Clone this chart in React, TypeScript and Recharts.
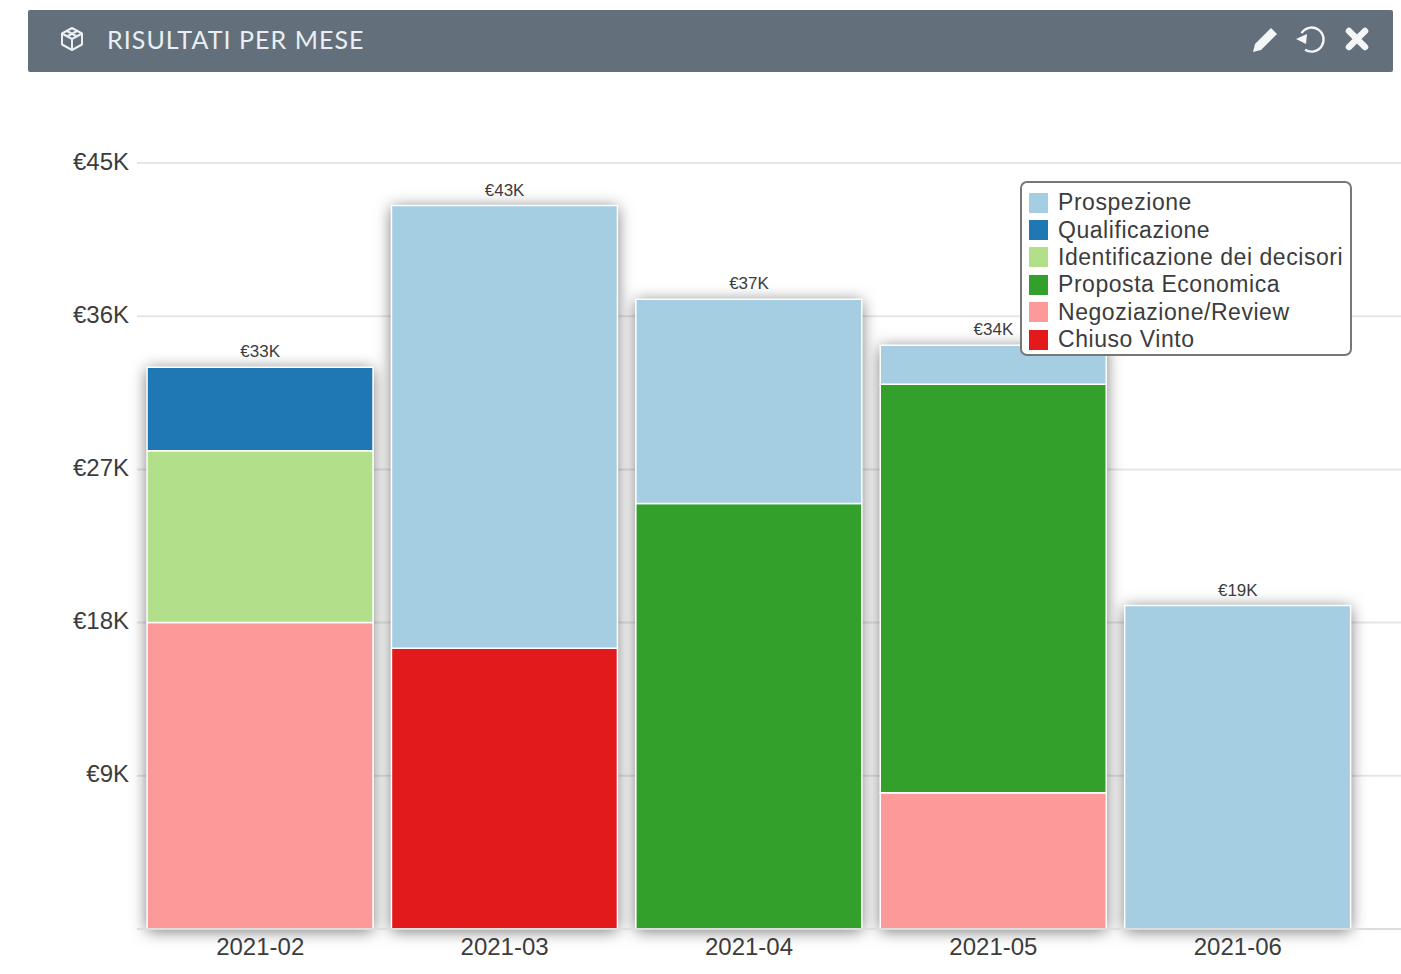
import { ComposedChart, Bar, Line, XAxis, YAxis, CartesianGrid, Legend, LabelList } from 'recharts'

const MONTHS = ['2021-02', '2021-03', '2021-04', '2021-05', '2021-06']
const Y_TICKS = [0, 9, 18, 27, 36, 45]

// values in thousands of euro
const PROSPEZIONE = [0, 26, 12, 2.3, 19]
const QUALIFICAZIONE = [4.9, 0, 0, 0, 0]
const IDENTIFICAZIONE = [10.1, 0, 0, 0, 0]
const PROPOSTA = [0, 0, 25, 24, 0]
const NEGOZIAZIONE = [18, 0, 0, 8, 0]
const CHIUSO = [0, 16.5, 0, 0, 0]
const TOTALS = [33, 42.5, 37, 34.3, 19]

const SERIES = [
  { key: 'negoziazione', name: 'Negoziazione/Review', color: '#fb9a99' },
  { key: 'chiuso', name: 'Chiuso Vinto', color: '#e31a1c' },
  { key: 'proposta', name: 'Proposta Economica', color: '#33a02c' },
  { key: 'identificazione', name: 'Identificazione dei decisori', color: '#b2df8a' },
  { key: 'qualificazione', name: 'Qualificazione', color: '#1f78b4' },
  { key: 'prospezione', name: 'Prospezione', color: '#a6cee3' },
]

const LEGEND_ORDER = ['prospezione', 'qualificazione', 'identificazione', 'proposta', 'negoziazione', 'chiuso']

const data = MONTHS.map((month, i) => ({
  month,
  prospezione: PROSPEZIONE[i],
  qualificazione: QUALIFICAZIONE[i],
  identificazione: IDENTIFICAZIONE[i],
  proposta: PROPOSTA[i],
  negoziazione: NEGOZIAZIONE[i],
  chiuso: CHIUSO[i],
  total: TOTALS[i],
}))

const FONT = '"Liberation Sans", Arial, sans-serif'

function LegendBox() {
  return (
    <div
      style={{
        width: 332,
        height: 175,
        boxSizing: 'border-box',
        background: '#fff',
        border: '2px solid #777',
        borderRadius: 7,
        padding: '6px 0 0 7px',
        fontFamily: FONT,
        fontSize: 23,
        letterSpacing: 0.55,
        color: '#3c3c3c',
      }}
    >
      {LEGEND_ORDER.map((key) => {
        const s = SERIES.find((item) => item.key === key)!
        return (
          <div key={key} style={{ display: 'flex', alignItems: 'center', height: 27.4, whiteSpace: 'nowrap' }}>
            <span style={{ width: 19, height: 20, background: s.color, marginRight: 10 }} />
            {s.name}
          </div>
        )
      })}
    </div>
  )
}

function Header() {
  return (
    <div
      style={{
        position: 'absolute',
        left: 28,
        top: 10,
        width: 1365,
        height: 62,
        background: '#646f7c',
        color: '#e9eff3',
        borderRadius: 2,
        zIndex: 2,
      }}
    >
      <svg width={1365} height={62} style={{ position: 'absolute', left: 0, top: 0 }}>
        {/* cube */}
        <g fill="none" stroke="#e9eff3" strokeWidth={2} strokeLinejoin="round">
          <path d="M44 18 L54 23.5 L54 34.5 L44 40 L34 34.5 L34 23.5 Z" />
          <path d="M34 23.5 L44 29 L54 23.5 M44 29 L44 40 M39 21 L49 26.5 M49 21 L39 26.5" />
        </g>
        {/* pencil */}
        <path d="M1225 42 L1227 34 L1243 18 L1249 24 L1233 40 Z" fill="#f4f6f8" />
        {/* undo */}
        <path d="M1275 21 A12 12 0 1 1 1275 38" fill="none" stroke="#f4f6f8" strokeWidth={2.4} transform="rotate(-12 1284 29)" />
        <path d="M1268 29 L1279 24 L1278 34 Z" fill="#f4f6f8" />
        {/* close */}
        <path d="M1321 21 L1337 37 M1337 21 L1321 37" stroke="#f4f6f8" strokeWidth={6.5} strokeLinecap="round" />
      </svg>
      <span
        style={{
          position: 'absolute',
          left: 79,
          top: 14,
          fontFamily: 'Lato, sans-serif',
          fontSize: 25,
          lineHeight: '30px',
          letterSpacing: 1.05,
          whiteSpace: 'nowrap',
        }}
      >
        RISULTATI PER MESE
      </span>
    </div>
  )
}

export default function App() {
  return (
    <div style={{ position: 'absolute', left: 0, top: 0, width: 1401, height: 974, background: '#fff', overflow: 'hidden' }}>
      <Header />
      <ComposedChart
        width={1401}
        height={974}
        data={data}
        barCategoryGap="3.7%"
        margin={{ top: 163, right: 0, bottom: 0, left: 0 }}
      >
        <defs>
          <filter id="barShadow" x="-15%" y="-15%" width="130%" height="130%">
            <feDropShadow dx="0" dy="2" stdDeviation="8" floodColor="#000" floodOpacity="0.55" />
          </filter>
        </defs>
        <CartesianGrid vertical={false} stroke="#e6e6e6" strokeWidth={2} />
        <XAxis
          dataKey="month"
          height={45}
          padding={{ left: 1, right: 41 }}
          tickLine={false}
          axisLine={{ stroke: '#dddddd', strokeWidth: 2 }}
          tick={{ fontFamily: FONT, fontSize: 24, fill: '#3c3c3c' }}
          tickMargin={3}
        />
        {/* second x axis so the shadow bar sits under the stack without sharing its slot */}
        <XAxis xAxisId="shadow" dataKey="month" hide padding={{ left: 1, right: 41 }} height={45} />
        <YAxis
          width={137}
          domain={[0, 45]}
          ticks={Y_TICKS}
          tickLine={false}
          axisLine={false}
          tick={{ fontFamily: FONT, fontSize: 24, fill: '#3c3c3c', dy: -2 }}
          tickMargin={2}
          tickFormatter={(v: number) => (v === 0 ? '' : `€${v}K`)}
        />
        {/* center + middle: the legend floats over the plot and reserves no room */}
        <Legend
          layout="horizontal"
          align="center"
          verticalAlign="middle"
          content={<LegendBox />}
          wrapperStyle={{ position: 'absolute', left: 1020, top: 181, width: 332, height: 175, zIndex: 3 }}
        />
        <Bar
          xAxisId="shadow"
          dataKey="total"
          fill="#fff"
          filter="url(#barShadow)"
          legendType="none"
          isAnimationActive={false}
        />
        {SERIES.map((s) => (
          <Bar
            key={s.key}
            dataKey={s.key}
            name={s.name}
            stackId="a"
            fill={s.color}
            stroke="#ffffff"
            strokeWidth={1.5}
            isAnimationActive={false}
          />
        ))}
        <Line dataKey="total" stroke="none" dot={false} activeDot={false} legendType="none" isAnimationActive={false}>
          <LabelList
            dataKey="total"
            position="top"
            offset={10}
            formatter={(v: number) => `€${Math.round(v)}K`}
            style={{ fontFamily: FONT, fontSize: 17, fill: '#3c3c3c' }}
          />
        </Line>
      </ComposedChart>
    </div>
  )
}
